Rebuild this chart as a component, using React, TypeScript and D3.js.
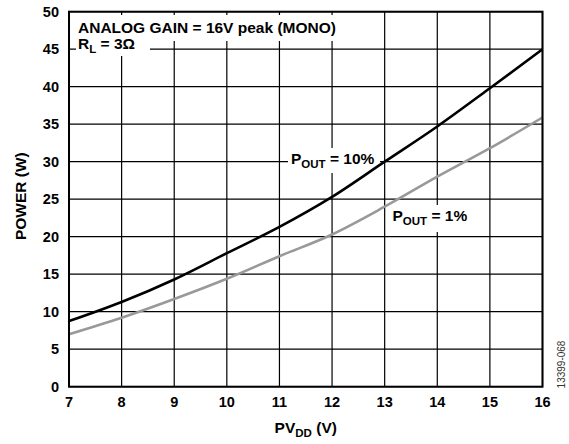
import React from "react";
import * as d3 from "d3";

const pvdd = [7, 8, 9, 10, 11, 12, 13, 14, 15, 16];
const pout10 = [8.75, 11.3, 14.3, 17.8, 21.3, 25.3, 30.0, 34.7, 39.8, 45.0];
const pout1 = [7.0, 9.2, 11.7, 14.4, 17.4, 20.3, 24.0, 28.0, 31.8, 35.9];
const xTicks = [7, 8, 9, 10, 11, 12, 13, 14, 15, 16];
const yTicks = [0, 5, 10, 15, 20, 25, 30, 35, 40, 45, 50];

const W = 569;
const H = 444;
const L = 69, R = 542.5, T = 11.7, B = 386.7;
const FONT = "'Liberation Sans', Arial, Helvetica, sans-serif";
const FS = 15.5;
const SUB = 11.5;

export default function App() {
  const x = d3.scaleLinear().domain([7, 16]).range([L, R]);
  const y = d3.scaleLinear().domain([0, 50]).range([B, T]);
  const line = d3
    .line<number>()
    .x((_, i) => x(pvdd[i]))
    .y((d) => y(d))
    .curve(d3.curveMonotoneX);

  return (
    <svg
      width={W}
      height={H}
      style={{ position: "absolute", left: 0, top: 0, background: "#fff" }}
      fontFamily={FONT}
    >
      <rect x={0} y={0} width={W} height={H} fill="#fff" />
      {/* grid */}
      {xTicks.map((t) => (
        <line key={"gx" + t} x1={x(t)} x2={x(t)} y1={T} y2={B} stroke="#000" strokeWidth={1.2} />
      ))}
      {yTicks.map((t) => (
        <line key={"gy" + t} x1={L} x2={R} y1={y(t)} y2={y(t)} stroke="#000" strokeWidth={1.2} />
      ))}
      {/* legend background */}
      <rect x={72} y={15} width={274} height={26} fill="#fff" />
      <rect x={76} y={40} width={74} height={16} fill="#fff" />
      {/* curve label backgrounds */}
      <rect x={288} y={148} width={92} height={25} fill="#fff" />
      <rect x={390} y={205} width={83} height={27} fill="#fff" />
      {/* curves */}
      <path d={line(pout1) || ""} fill="none" stroke="#999" strokeWidth={2.6} />
      <path d={line(pout10) || ""} fill="none" stroke="#000" strokeWidth={2.6} />
      {/* border */}
      <rect x={L} y={T} width={R - L} height={B - T} fill="none" stroke="#000" strokeWidth={2} />
      {/* y tick labels */}
      {yTicks.map((t) => (
        <text key={"ty" + t} x={59} y={y(t)} dy="0.36em" textAnchor="end" fontSize={14.5} fontWeight="bold">
          {t}
        </text>
      ))}
      {/* x tick labels */}
      {xTicks.map((t) => (
        <text key={"tx" + t} x={x(t)} y={406.5} textAnchor="middle" fontSize={14.5} fontWeight="bold">
          {t}
        </text>
      ))}
      {/* axis titles */}
      <text x={(L + R) / 2} y={433} textAnchor="middle" fontSize={FS} fontWeight="bold">
        PV<tspan fontSize={SUB} dy={4}>DD</tspan>
        <tspan dy={-4}> (V)</tspan>
      </text>
      <text
        transform={`translate(26,${(T + B) / 2 - 3}) rotate(-90)`}
        textAnchor="middle"
        fontSize={FS}
        fontWeight="bold"
      >
        POWER (W)
      </text>
      {/* legend text */}
      <text x={78} y={33} fontSize={FS} fontWeight="bold">
        ANALOG GAIN = 16V peak (MONO)
      </text>
      <text x={78} y={49} fontSize={FS} fontWeight="bold">
        R<tspan fontSize={SUB} dy={4}>L</tspan>
        <tspan dy={-4}> = 3Ω</tspan>
      </text>
      {/* curve labels */}
      <text x={291} y={163.5} fontSize={FS} fontWeight="bold">
        P<tspan fontSize={SUB} dy={4}>OUT</tspan>
        <tspan dy={-4}> = 10%</tspan>
      </text>
      <text x={392.5} y={221} fontSize={FS} fontWeight="bold">
        P<tspan fontSize={SUB} dy={4}>OUT</tspan>
        <tspan dy={-4}> = 1%</tspan>
      </text>
      {/* figure id */}
      <text
        transform="translate(565,364.5) rotate(-90)"
        textAnchor="middle"
        fontSize={10}
        fill="#333"
      >
        13399-068
      </text>
    </svg>
  );
}
